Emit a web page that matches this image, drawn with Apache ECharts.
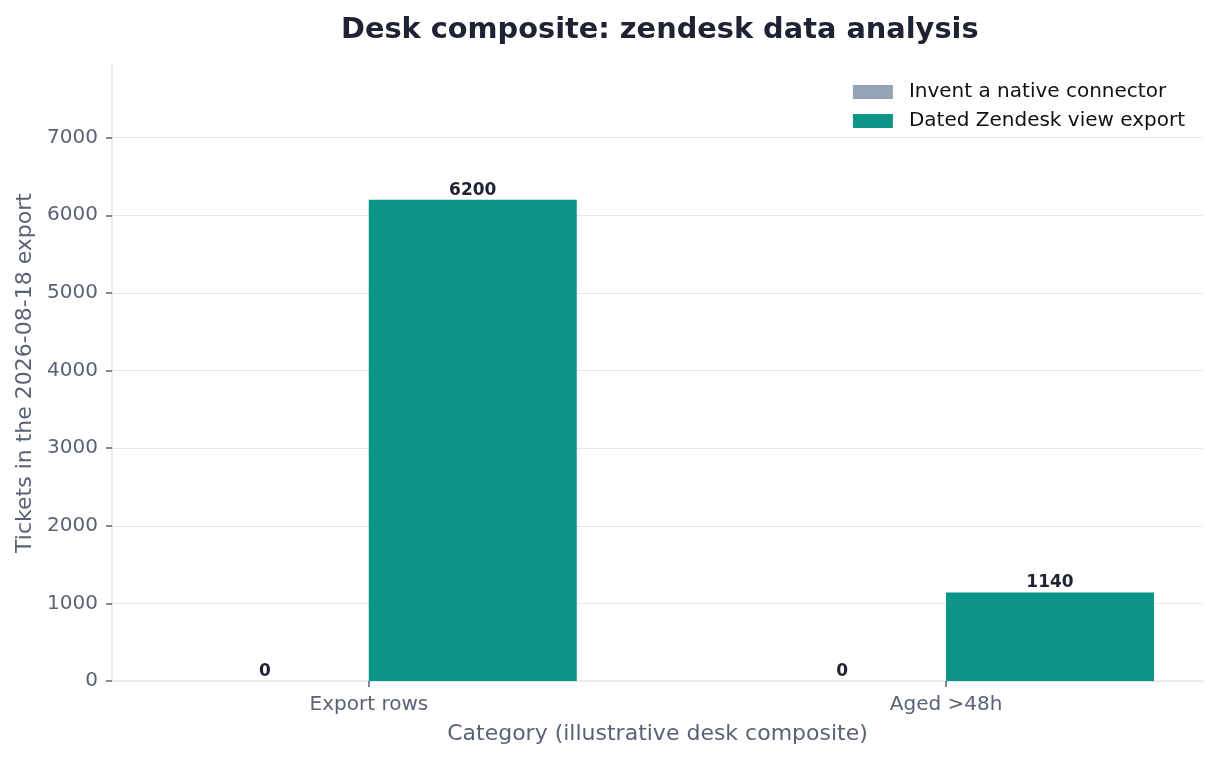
<!DOCTYPE html>
<html><head><meta charset="utf-8">
<script src="https://cdn.jsdelivr.net/npm/echarts@6/dist/echarts.min.js"></script>
<style>html,body{margin:0;padding:0;background:#fff}#c{width:1219px;height:760px}</style>
</head><body><div id="c"></div>
<script>
const categories = ["Export rows", "Aged >48h"];
const seriesNames = ["Invent a native connector", "Dated Zendesk view export"];
const connectorValues = [0, 0];
const exportValues = [6200, 1140];
const yTicks = [0, 1000, 2000, 3000, 4000, 5000, 6000, 7000];

const FONT = "DejaVu Sans";
const BAR_HALF = 0.18;
const chart = echarts.init(document.getElementById('c'), null, {renderer: 'canvas'});
const mk = (vals, off) => vals.map((v, i) => [i + off, v]);
const labelCfg = {show: true, position: 'top', distance: 1, fontFamily: FONT, fontWeight: 'bold', fontSize: 17, color: '#1f2233'};
chart.setOption({
  animation: false,
  backgroundColor: '#fff',
  title: {text: 'Desk composite: zendesk data analysis', left: 336, top: 11,
    textStyle: {fontFamily: FONT, fontSize: 28.8, fontWeight: 'bold', color: '#1f2233'}},
  legend: {orient: 'vertical', right: 29, top: 77, itemWidth: 40, itemHeight: 14, itemGap: 9, icon: 'rect',
    textStyle: {fontFamily: FONT, fontSize: 20, color: '#111111', padding: [0, 0, 0, 11]}, data: seriesNames},
  grid: {left: 112, right: 16, top: 65, bottom: 79},
  xAxis: {type: 'value', min: -0.445, max: 1.445,
    name: 'Category (illustrative desk composite)', nameLocation: 'middle', nameGap: 42,
    nameTextStyle: {fontFamily: FONT, fontSize: 22, color: '#5a6275'},
    axisLine: {show: true, onZero: false, lineStyle: {color: '#e5e7eb', width: 1.5}},
    axisTick: {show: true, customValues: [0, 1], length: 6, lineStyle: {color: '#5a6275', width: 1.5}},
    axisLabel: {customValues: [0, 1], formatter: v => categories[Math.round(v)] || '', margin: 14,
      fontFamily: FONT, fontSize: 20, color: '#5a6275'},
    splitLine: {show: false}},
  yAxis: {type: 'value', min: 0, max: 7936, interval: 1000,
    name: 'Tickets in the 2026-08-18 export', nameLocation: 'middle', nameGap: 76,
    nameTextStyle: {fontFamily: FONT, fontSize: 22, color: '#5a6275'},
    axisLine: {show: true, onZero: false, lineStyle: {color: '#e5e7eb', width: 1.5}},
    axisTick: {show: true, customValues: yTicks, length: 6, lineStyle: {color: '#5a6275', width: 1.5}},
    axisLabel: {customValues: yTicks, formatter: v => String(v), margin: 14, fontFamily: FONT, fontSize: 20, color: '#5a6275'},
    splitLine: {show: true, lineStyle: {color: '#e5e7eb', width: 1.2}}},
  series: [
    {name: seriesNames[0], type: 'bar', barWidth: 208, barGap: '-100%', itemStyle: {color: '#94a3b8'},
      label: labelCfg, data: mk(connectorValues, -BAR_HALF)},
    {name: seriesNames[1], type: 'bar', barWidth: 208, barGap: '-100%', itemStyle: {color: '#0d9488'},
      label: labelCfg, data: mk(exportValues, BAR_HALF)}
  ]
});
</script></body></html>
